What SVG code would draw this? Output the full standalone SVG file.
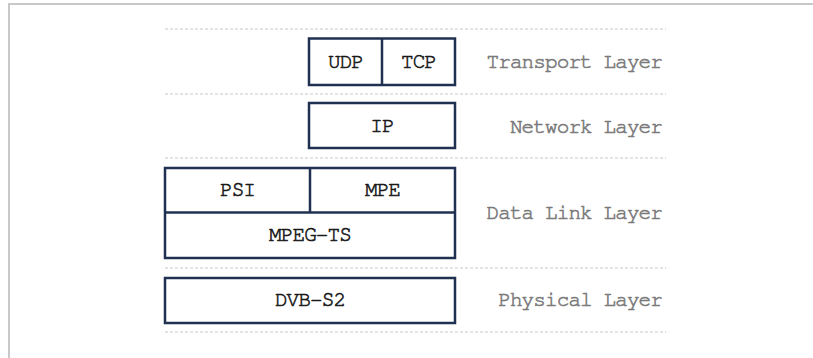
<svg xmlns="http://www.w3.org/2000/svg" width="813" height="358" viewBox="0 0 813 358">
<style>
.frame{fill:none;stroke:#c8c8c8;stroke-width:2}
.sep{stroke:#c8c8c8;stroke-width:1;stroke-dasharray:3 2}
.box{fill:#fff;stroke:#1f3050;stroke-width:2.5}
.div{stroke:#1f3050;stroke-width:2.5}
.t{font-family:"Nimbus Mono PS","FreeMono","Courier","Liberation Mono",monospace;font-size:21px;letter-spacing:-0.9px;fill:#1a1a1a;stroke:#1a1a1a;stroke-width:0.6;text-anchor:middle}
.lbl{font-family:"Nimbus Mono PS","FreeMono","Courier","Liberation Mono",monospace;font-size:21px;letter-spacing:-0.9px;fill:#7a7a7a;stroke:#7a7a7a;stroke-width:0.6;text-anchor:end}
</style>
<rect width="813" height="358" fill="#fff"/>
<path class="frame" d="M9,358 V4 H813"/>
<g id="separators">
<line class="sep" x1="165" y1="29" x2="666" y2="29"/>
<line class="sep" x1="165" y1="94" x2="666" y2="94"/>
<line class="sep" x1="165" y1="158" x2="666" y2="158"/>
<line class="sep" x1="165" y1="268" x2="666" y2="268"/>
<line class="sep" x1="165" y1="332" x2="666" y2="332"/>
</g>
<g id="transport">
<rect class="box" x="309" y="38.5" width="146" height="46.5"/>
<line class="div" x1="382" y1="38.5" x2="382" y2="85"/>
<text class="t" x="345.5" y="68">UDP</text>
<text class="t" x="418.5" y="68">TCP</text>
</g>
<g id="network">
<rect class="box" x="309" y="103" width="146" height="45"/>
<text class="t" x="382" y="132">IP</text>
</g>
<g id="datalink">
<rect class="box" x="165" y="168" width="290" height="90"/>
<line class="div" x1="165" y1="212.5" x2="455" y2="212.5"/>
<line class="div" x1="310" y1="168" x2="310" y2="212.5"/>
<text class="t" x="237.5" y="196">PSI</text>
<text class="t" x="382.5" y="196">MPE</text>
<text class="t" x="310" y="241">MPEG-TS</text>
</g>
<g id="physical">
<rect class="box" x="165" y="278" width="290" height="45"/>
<text class="t" x="310" y="306">DVB-S2</text>
</g>
<g id="labels">
<text class="lbl" x="662" y="68">Transport Layer</text>
<text class="lbl" x="662" y="133">Network Layer</text>
<text class="lbl" x="662" y="219">Data Link Layer</text>
<text class="lbl" x="662" y="306">Physical Layer</text>
</g>
<g id="connectors"></g>
</svg>
